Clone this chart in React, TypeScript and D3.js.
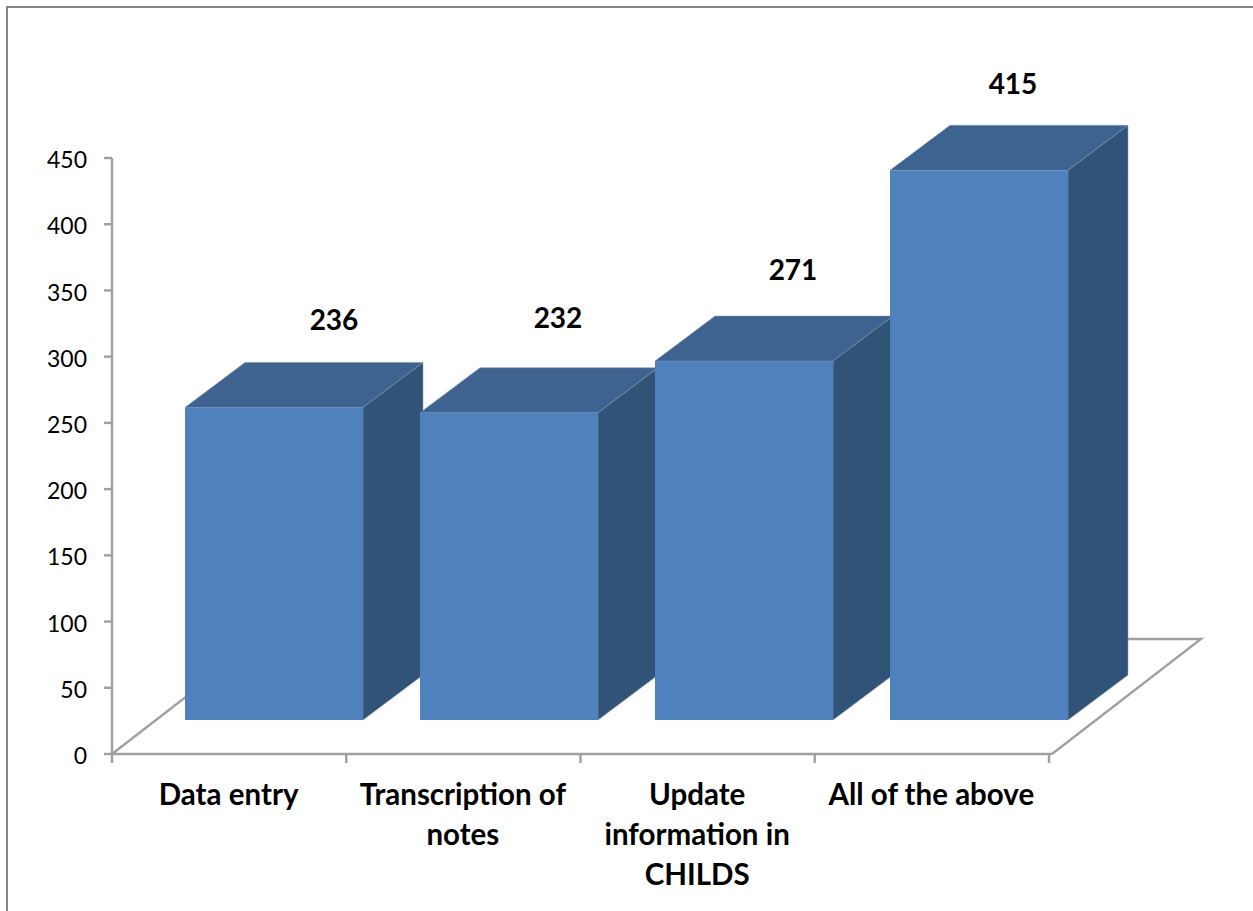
import React, { useEffect, useRef } from 'react';
import * as d3 from 'd3';

const categories = ['Data entry', 'Transcription of notes', 'Update information in CHILDS', 'All of the above'];
const values = [236, 232, 271, 415];
const yTicks = [0, 50, 100, 150, 200, 250, 300, 350, 400, 450];
const categoryLines = [['Data entry'], ['Transcription of', 'notes'], ['Update', 'information in', 'CHILDS'], ['All of the above']];
// data labels were dragged by hand in the original
const labelNudgeX = [60, 49, 49, 34];
const labelNudgeY = [-32, -40, -36, -31];

const WIDTH = 1253;
const HEIGHT = 911;
const FONT = 'Lato, "Open Sans", sans-serif';
const AXIS_COLOR = '#a0a0a0';

const App: React.FC = () => {
  const xAxisRef = useRef<SVGGElement>(null);
  const yAxisRef = useRef<SVGGElement>(null);

  const margin = { left: 112, right: 201, top: 158, bottom: 157 };
  const plotBottom = HEIGHT - margin.bottom;
  const plotRight = WIDTH - margin.right;

  const x = d3.scaleBand<string>()
    .domain(categories)
    .range([margin.left, plotRight])
    .paddingInner(0.2426)
    .paddingOuter(0.1213);
  const y = d3.scaleLinear().domain([0, 450]).range([plotBottom, margin.top]);
  // tick marks run a little short of the floor corner
  const tickX = d3.scaleLinear().domain([0, categories.length]).range([margin.left, plotRight - 3]);

  // bars stand in the middle of the floor, then extend back by the depth
  const standX = 44.5;
  const standY = -34;
  const depthX = 60;
  const depthY = -45;
  const floorX = 149;
  const floorY = -115;

  useEffect(() => {
    const xAxis = d3.axisBottom(tickX)
      .tickValues(d3.range(categories.length + 1))
      .tickSizeInner(9).tickSizeOuter(0).tickFormat(() => '').offset(0);
    const gx = d3.select(xAxisRef.current!).call(xAxis as any);
    gx.selectAll('line,path').attr('stroke', AXIS_COLOR).attr('stroke-width', 2.4);
    gx.select('path').attr('d', `M${margin.left},0H${plotRight}`);

    const yAxis = d3.axisLeft(y).tickValues(yTicks).tickSizeInner(8).tickSizeOuter(0).tickPadding(17).offset(0);
    const gy = d3.select(yAxisRef.current!).call(yAxis as any);
    gy.selectAll('line,path').attr('stroke', AXIS_COLOR).attr('stroke-width', 2.4);
    gy.selectAll('text').attr('fill', '#000').attr('dy', '0.44em').style('font-family', FONT).style('font-size', '23px');
  }, []);

  const floorPath = d3.path();
  floorPath.moveTo(margin.left, plotBottom);
  floorPath.lineTo(margin.left + floorX, plotBottom + floorY);
  floorPath.lineTo(plotRight + floorX, plotBottom + floorY);
  floorPath.lineTo(plotRight, plotBottom);

  return (
    <svg width={WIDTH} height={HEIGHT} style={{ position: 'absolute', left: 0, top: 0, background: '#fff' }}>
      <path d={`M7,${HEIGHT}V7H${WIDTH}`} fill="none" stroke="#858585" strokeWidth={2} />

      <path d={floorPath.toString()} fill="none" stroke={AXIS_COLOR} strokeWidth={2.4} />
      <g ref={yAxisRef} transform={`translate(${margin.left},0)`} />
      <g ref={xAxisRef} transform={`translate(0,${plotBottom})`} />

      {categories.map((c, i) => {
        const x0 = x(c)! + standX;
        const x1 = x0 + x.bandwidth();
        const base = plotBottom + standY;
        const top = y(values[i]) + standY;
        return (
          <g key={c}>
            <path
              d={`M${x0},${top}L${x0 + depthX},${top + depthY}H${x1 + depthX}L${x1},${top}Z`}
              fill="#3e6390"
              stroke="#7f93ab"
              strokeWidth={0.5}
            />
            <path
              d={`M${x1},${top}L${x1 + depthX},${top + depthY}V${base + depthY}L${x1},${base}Z`}
              fill="#325378"
              stroke="#8d9fb3"
              strokeWidth={0.5}
            />
            <rect x={x0} y={top} width={x.bandwidth()} height={base - top} fill="#4f81bd" />
            <text
              x={(x0 + x1) / 2 + labelNudgeX[i]}
              y={top + depthY + labelNudgeY[i]}
              textAnchor="middle"
              fontFamily={FONT}
              fontWeight={700}
              fontSize={28}
              fill="#000"
            >
              {values[i]}
            </text>
            <text textAnchor="middle" fontFamily={FONT} fontWeight={700} fontSize={29.5} fill="#000">
              {categoryLines[i].map((line, k) => (
                <tspan key={line} x={tickX(i + 0.5) - 0.5} y={805 + k * 40}>
                  {line}
                </tspan>
              ))}
            </text>
          </g>
        );
      })}
    </svg>
  );
};

export default App;
